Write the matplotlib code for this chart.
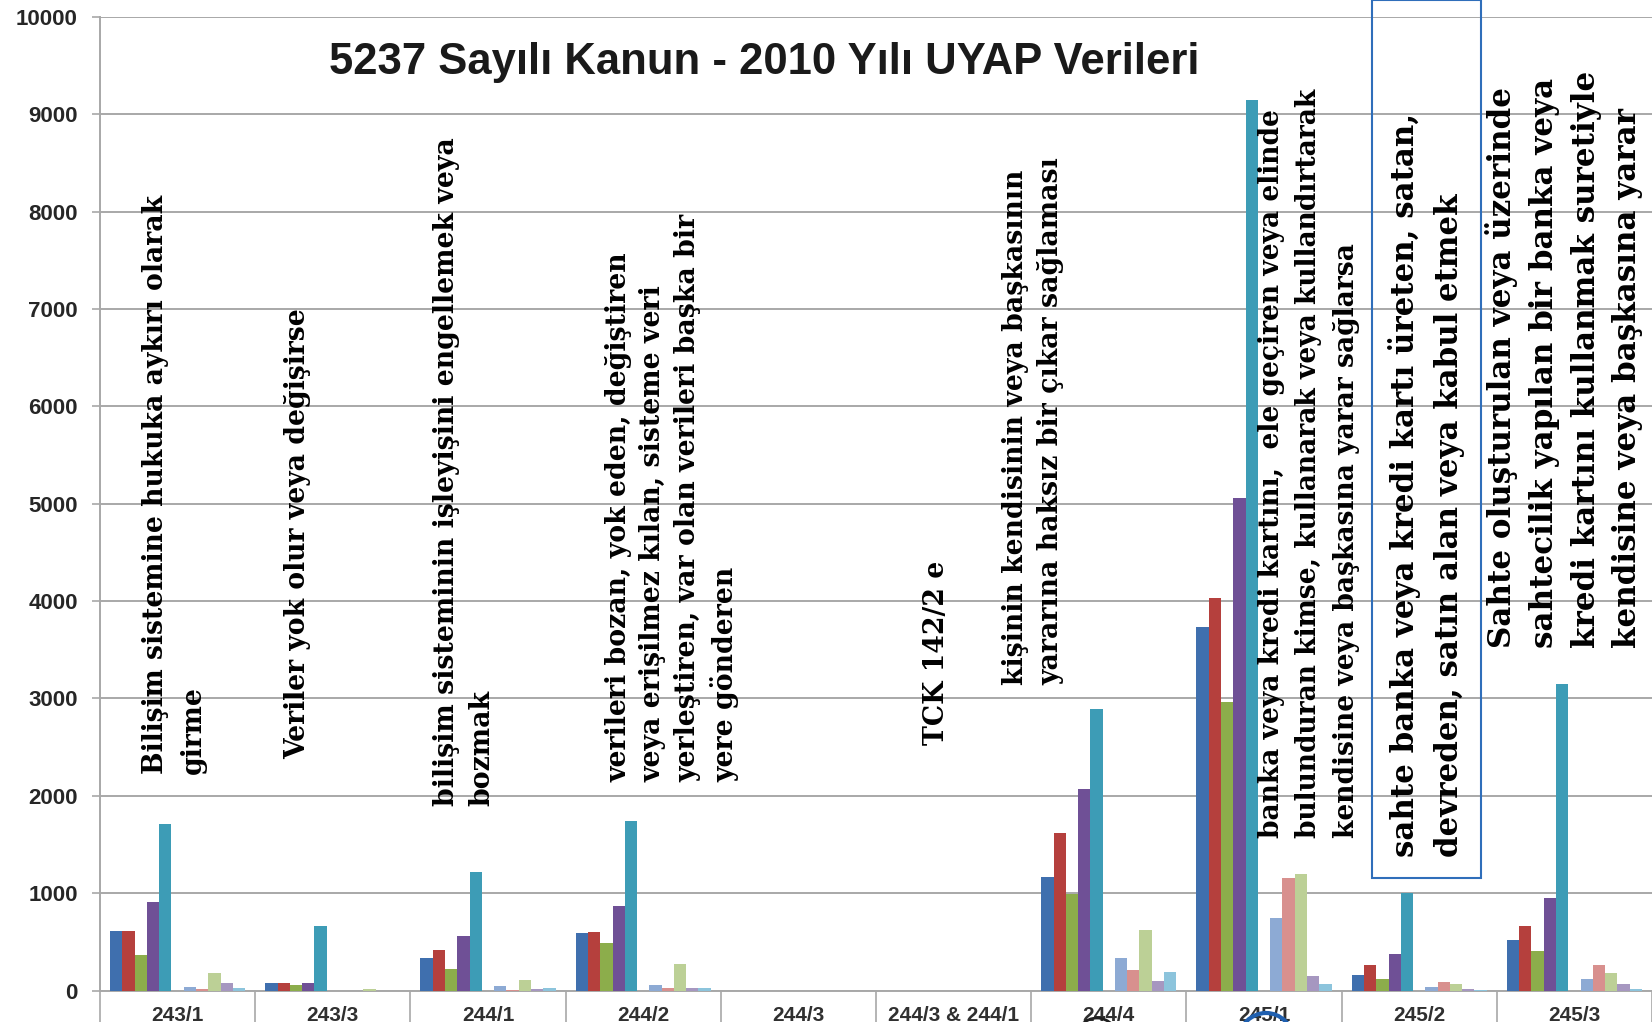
import numpy as np
import matplotlib
matplotlib.use('Agg')
import matplotlib.pyplot as plt
from matplotlib.patches import Rectangle, Ellipse


# data
categories = ['243/1', '243/3', '244/1', '244/2', '244/3', '244/3 & 244/1',
              '244/4', '245/1', '245/2', '245/3']

koyu_mavi = [610, 75, 330, 590, 0, 0, 1165, 3730, 160, 520]
kirmizi = [610, 75, 415, 605, 0, 0, 1620, 4030, 265, 665]
yesil = [365, 58, 222, 485, 0, 0, 995, 2965, 120, 410]
mor = [905, 75, 560, 872, 0, 0, 2070, 5055, 372, 955]
turkuaz = [1710, 665, 1222, 1745, 0, 0, 2890, 9150, 1005, 3150]
turuncu = [0, 0, 0, 0, 0, 0, 0, 0, 0, 0]
acik_mavi = [40, 0, 50, 58, 0, 0, 330, 740, 35, 120]
pembe = [15, 0, 10, 30, 0, 0, 210, 1155, 85, 265]
acik_yesil = [178, 15, 107, 277, 0, 0, 620, 1195, 65, 178]
acik_mor = [76, 0, 20, 30, 0, 0, 97, 145, 20, 70]
acik_turkuaz = [25, 0, 30, 30, 0, 0, 193, 65, 10, 15]

series = [koyu_mavi, kirmizi, yesil, mor, turkuaz, turuncu,
          acik_mavi, pembe, acik_yesil, acik_mor, acik_turkuaz]
colors = ['#3F6FAE', '#B5403D', '#8CAD4B', '#6F5096', '#3D9CB6', '#F79646',
          '#8DAAD4', '#D8908E', '#BCD096', '#A697C0', '#8CC4DC']

y_ticks = [0, 1000, 2000, 3000, 4000, 5000, 6000, 7000, 8000, 9000, 10000]

title = '5237 Sayılı Kanun - 2010 Yılı UYAP Verileri'

# rotated notes: text, left px, bottom px, font size, line spacing
notes = [
    ('Bilişim sistemine hukuka aykırı olarak\ngirme', 142, 774, 19.2, 1.5),
    ('Veriler yok olur veya değişirse', 284, 759, 19.2, 1.4),
    ('bilişim sisteminin işleyişini engellemek veya\nbozmak', 433, 806, 19.3, 1.4),
    ('verileri bozan, yok eden, değiştiren\nveya erişilmez kılan, sisteme veri\n'
     'yerleştiren, var olan verileri başka bir\nyere gönderen', 605, 782, 19.3, 1.37),
    ('TCK 142/2 e', 923, 745, 19.3, 1.4),
    ('kişinin kendisinin veya başkasının\nyararına haksız bir çıkar sağlaması', 1002, 685, 19.3, 1.42),
    ('banka veya kredi kartını,  ele geçiren veya elinde\nbulunduran kimse, kullanarak veya kullandırtarak\n'
     'kendisine veya başkasına yarar sağlarsa', 1258, 838, 19.1, 1.5),
    ('sahte banka veya kredi kartı üreten, satan,\ndevreden, satın alan veya kabul etmek', 1388, 857, 22.2, 1.55),
    ('Sahte oluşturulan veya üzerinde\nsahtecilik yapılan bir banka veya\n'
     'kredi kartını kullanmak suretiyle\nkendisine veya başkasına yarar', 1485, 648, 22.3, 1.45),
]

W, H = 1652, 1022


def px(x, y):
    return x / W, 1 - y / H


fig = plt.figure(figsize=(W / 100, H / 100), dpi=100)
fig.patch.set_facecolor('white')
ax = fig.add_axes([100 / W, (H - 990.5) / H, (W - 100) / W, (990.5 - 17) / H])

# bars
n = len(series)
x = np.arange(len(categories))
group_w = 0.87
bw = group_w / n
for i, (vals, c) in enumerate(zip(series, colors)):
    ax.bar(x - group_w / 2 + bw * (i + 0.5), vals, width=bw, color=c, linewidth=0, zorder=3)

ax.set_xlim(-0.5, len(categories) - 0.5)
ax.set_ylim(0, 10000)
ax.set_yticks(y_ticks)
ax.set_yticklabels([str(v) for v in y_ticks], family='Liberation Sans', fontweight='bold',
                   fontsize=16, color='#262626')
ax.yaxis.grid(True, color='#A8A8A8', linewidth=1.4, zorder=0)
ax.tick_params(axis='y', length=6, width=1.2, color='#A8A8A8', pad=10)

ax.set_xticks(x)
ax.set_xticklabels(categories, family='Liberation Sans', fontweight='bold', fontsize=15,
                   color='#303030')
ax.tick_params(axis='x', which='major', length=0, pad=11)
ax.set_xticks(np.arange(len(categories) + 1) - 0.5, minor=True)
ax.tick_params(axis='x', which='minor', length=40, width=1.2, color='#A8A8A8')

for s in ['top', 'right']:
    ax.spines[s].set_visible(False)
for s in ['left', 'bottom']:
    ax.spines[s].set_color('#A8A8A8')
    ax.spines[s].set_linewidth(1.4)

# title
fig.text(*px(764, 62), title, ha='center', va='center', family='Liberation Sans',
         fontweight='bold', fontsize=31.4, color='#1A1A1A')

# notes
for txt, lx, by, fs, ls in notes:
    fig.text(*px(lx, by), txt, rotation=90, rotation_mode='anchor', ha='left', va='top',
             multialignment='left', family='DejaVu Serif', fontweight='bold', fontsize=fs,
             color='black', linespacing=ls)

# box round the boxed note
x0, y0 = px(1372, 878)
x1, y1 = px(1481, 0)
fig.add_artist(Rectangle((x0, y0), x1 - x0, y1 - y0, transform=fig.transFigure,
                         fill=False, edgecolor='#2F6EBA', linewidth=1.5))

# marks at the bottom edge
fig.add_artist(Ellipse(px(1097, 1042), 44 / W, 48 / H, transform=fig.transFigure,
                       fill=False, edgecolor='#202020', linewidth=2))
fig.add_artist(Ellipse(px(1266, 1040), 54 / W, 54 / H, transform=fig.transFigure,
                       fill=False, edgecolor='#2060B0', linewidth=3))

fig.savefig('out.png', dpi=100)
